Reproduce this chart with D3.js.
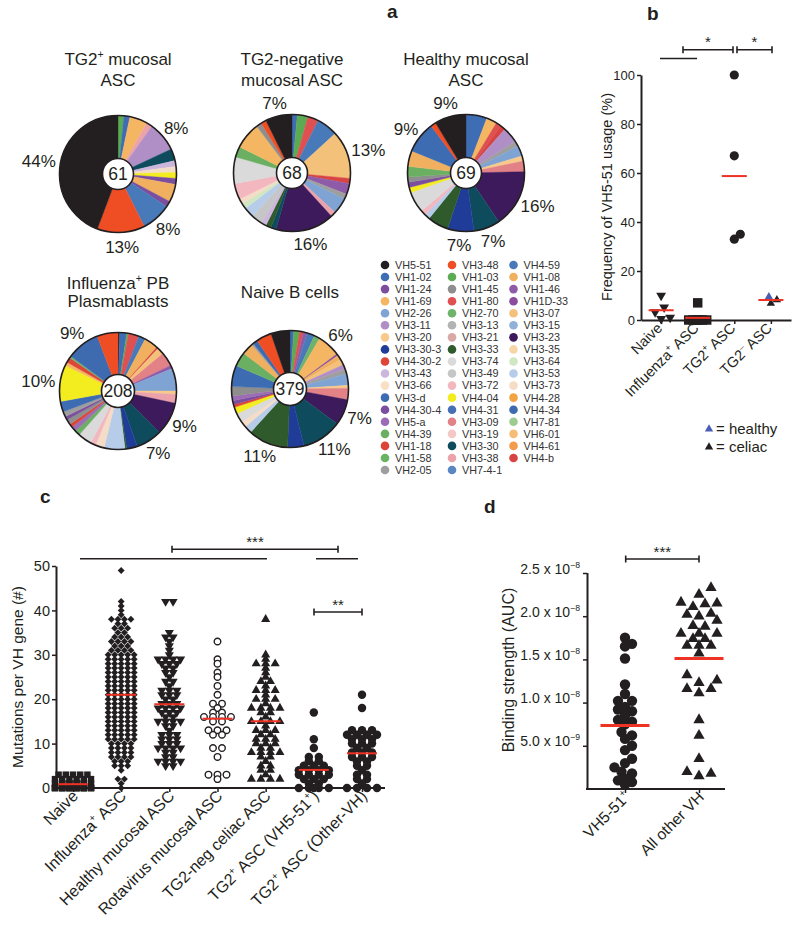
<!DOCTYPE html>
<html><head><meta charset="utf-8">
<script src="https://cdn.jsdelivr.net/npm/d3@7"></script>
<style>
body{margin:0;background:#fff}
text{font-family:"Liberation Sans",Arial,Helvetica,sans-serif;fill:#231f20}
</style>
</head><body>
<svg width="800" height="933"></svg>
<script>
// ---------------- DATA ----------------
const legendCol1 = ["VH5-51","VH1-02","VH1-24","VH1-69","VH2-26","VH3-11","VH3-20","VH3-30-3","VH4-30-2","VH3-43","VH3-66","VH3-d","VH4-30-4","VH5-a","VH4-39","VH1-18","VH1-58","VH2-05"];
const legendCol2 = ["VH3-48","VH1-03","VH1-45","VH1-80","VH2-70","VH3-13","VH3-21","VH3-33","VH3-74","VH3-49","VH3-72","VH4-04","VH4-31","VH3-09","VH3-19","VH3-30","VH3-38","VH7-4-1"];
const legendCol3 = ["VH4-59","VH1-08","VH1-46","VH1D-33","VH3-07","VH3-15","VH3-23","VH3-35","VH3-64","VH3-53","VH3-73","VH4-28","VH4-34","VH7-81","VH6-01","VH4-61","VH4-b"];

const pieTitles = [["TG2^+^ mucosal","ASC"],["TG2-negative","mucosal ASC"],["Healthy mucosal","ASC"],["Influenza^+^ PB","Plasmablasts"],["Naive B cells"]];

// slices clockwise from 12 o'clock: [gene, number of sequences]
const pie1 = [["VH1-03",1],["VH1-02",1],["VH1-69",3],["VH3-38",1],["VH3-11",5],["VH3-30",2],["VH3-43",1],["VH3-73",1],["VH4-04",1],["VH4-30-4",1],["VH1-08",3],["VH1-24",1],["VH4-59",5],["VH3-48",8],["VH5-51",27]];
const pie2 = [["VH1-02",1],["VH1-03",2],["VH1-80",2],["VH4-59",4],["VH3-07",9],["VH4-b",1],["VH1-46",2],["VH2-05",1],["VH2-26",3],["VH3-38",1],["VH3-23",11],["VH3-30",1],["VH3-33",1],["VH3-43",1],["VH3-49",2],["VH3-53",2],["VH3-64",1],["VH3-73",1],["VH3-72",3],["VH3-74",5],["VH4-39",2],["VH1-69",5],["VH1-45",1],["VH3-48",1],["VH5-51",5]];
const pie3 = [["VH1-02",4],["VH1-69",2],["VH1-80",1],["VH4-b",1],["VH3-11",3],["VH2-05",1],["VH2-26",2],["VH3-20",1],["VH3-09",2],["VH3-23",11],["VH3-30",5],["VH3-30-3",5],["VH3-33",4],["VH3-53",1],["VH3-72",1],["VH3-74",4],["VH4-04",1],["VH4-30-4",1],["VH1-45",1],["VH4-39",2],["VH1-08",3],["VH3-d",6],["VH3-48",1],["VH5-51",6]];
const pie4 = [["VH5-51",1],["VH1-02",4],["VH1-03",1],["VH1-80",6],["VH4-59",4],["VH1-08",8],["VH4-b",1],["VH3-07",4],["VH3-09",8],["VH1-46",2],["VH2-26",13],["VH3-20",2],["VH3-38",5],["VH3-23",19],["VH3-30",15],["VH3-30-3",6],["VH3-33",1],["VH3-53",12],["VH3-73",5],["VH3-72",3],["VH3-74",8],["VH4-39",3],["VH5-a",3],["VH1-18",2],["VH1-45",3],["VH4-30-4",2],["VH2-05",3],["VH3-d",6],["VH4-04",21],["VH1-69",2],["VH4-30-2",3],["VH2-70",1],["VH4-34",19],["VH3-48",12]];
const pie5 = [["VH1-02",4],["VH1-03",6],["VH1-80",4],["VH1-46",4],["VH4-59",8],["VH2-70",6],["VH1-69",24],["VH1D-33",2],["VH1-08",5],["VH3-07",6],["VH3-11",5],["VH2-05",5],["VH2-26",12],["VH3-20",3],["VH3-09",12],["VH3-23",27],["VH3-30",42],["VH3-30-3",17],["VH3-33",42],["VH3-53",8],["VH3-73",6],["VH3-74",10],["VH4-04",7],["VH4-30-2",3],["VH4-30-4",4],["VH5-a",5],["VH1-45",10],["VH3-d",22],["VH4-39",15],["VH1-08",12],["VH2-05",2],["VH4-34",5],["VH3-48",16],["VH5-51",20]];
// which slices carry a percentage label
const pieLabelIdx = [[4,12,13,14],[4,10,24],[9,10,11,21,23],[13,14,28,32],[6,15,16,18]];

// panel b
const bCategories = ["Naive","Influenza^+^ ASC","TG2^+^ ASC","TG2^–^ ASC"];
const bYTicks = [0,20,40,60,80,100];
const bNaive = [10, 3.2, 5.2, 0.5, 1];
const bInfluenza = [7, 0, 0, 0, 0, 0, 0, 0];
const bTG2pos = [100, 67, 35, 33];
const bTG2negHealthy = [9.5];
const bTG2negCeliac = [6.8, 8.2];

// panel c
const cCategories = ["Naive","Influenza^+^ ASC","Healthy mucosal ASC","Rotavirus mucosal ASC","TG2-neg celiac ASC","TG2^+^ ASC (VH5-51^+^)","TG2^+^ ASC (Other-VH)"];
const cYTicks = [0,10,20,30,40,50];
const cNaive = [3,3,3,3,3,2,2,2,2,2,2,1,1,1,1,1,1,1,1,1,1,0,0,0,0,0,0,0,0,0,0,0,0,0,0,0,0,0,0,0,0,0,0];
const cInfluenza = [49,42,41,40,39,38,38,38,38,37,37,36,36,36,35,35,34,34,34,33,33,33,33,32,32,32,31,31,31,31,
  30,30,30,30,30,29,29,29,29,29,28,28,28,28,28,27,27,27,27,27,26,26,26,26,26,25,25,25,25,25,
  24,24,24,24,24,23,23,23,23,23,22,22,22,22,22,21,21,21,21,21,20,20,20,20,20,19,19,19,19,19,
  18,18,18,18,18,17,17,17,17,17,16,16,16,16,16,15,15,15,15,15,14,14,14,14,14,13,13,13,13,13,
  12,12,12,12,12,11,11,11,11,11,10,10,10,10,9,9,9,9,8,8,8,8,7,7,7,7,6,6,6,5,5,5,4,2,2,1,0];
const cHealthy = [42,42,35,34,34,33,32,31,30,29,29,29,29,28,28,28,27,27,26,26,25,24,24,23,22,22,22,21,21,21,20,20,19,19,19,18,18,18,18,17,17,17,16,16,15,15,15,15,14,14,13,12,12,12,11,11,11,10,10,10,9,9,9,9,8,8,7,7,6,6,6,6,5,5];
const cRotavirus = [33,29,28,26,25,23,21,19,19,18,17,17,16,16,16,16,15,15,13,13,13,12,12,9,9,7,3,3,3,2];
const cTG2neg = [38,30,29,28,28,28,27,26,25,24,24,23,22,22,22,21,20,20,20,19,18,18,18,18,17,17,16,15,15,15,15,14,13,13,13,12,12,11,11,11,10,10,10,9,9,8,8,8,8,7,7,6,5,5,4,4,3,2,2,2,2];
const cVH551 = [17,11,9,7,7,6,6,5,5,5,4,4,4,4,3,3,3,3,2,2,2,1,1,0,0,0,0,0];
const cOtherVH = [21,18,13,13,13,12,12,12,12,11,11,11,10,10,10,9,9,8,8,8,7,7,7,6,6,5,5,4,3,3,2,2,1,0,0,0,0];

// panel d (AUC, units of 1e-8)
const dCategories = ["VH5-51^+^","All other VH"];
const dYTicks = [0.5,1.0,1.5,2.0,2.5];
const dVH551 = [1.75,1.68,1.65,1.51,1.21,1.1,1.02,1.02,0.95,0.92,0.9,0.85,0.8,0.78,0.75,0.66,0.62,0.58,0.5,0.45,0.35,0.3,0.25,0.2,0.18,0.12,0.1,0.08,0.05];
const dOtherVH = [2.33,2.25,2.16,2.15,2.14,2.11,2.03,2.02,2.0,1.95,1.89,1.88,1.8,1.8,1.8,1.74,1.74,1.66,1.66,1.66,1.57,1.32,1.26,1.23,1.16,1.16,1.11,0.8,0.62,0.35,0.2,0.18,0.15];

// ---------------- STYLE ----------------
const geneColors = {
 "VH5-51":"#231f20","VH1-02":"#3f6db4","VH1-24":"#7b4f9e","VH1-69":"#f4b663","VH2-26":"#7fa4d3","VH3-11":"#b08fc6",
 "VH3-20":"#f8c98c","VH3-30-3":"#1f3d98","VH4-30-2":"#de4437","VH3-43":"#cdb6dc","VH3-66":"#f9e0c4","VH3-d":"#3d6cb3",
 "VH4-30-4":"#7c4e9f","VH5-a":"#9c6db4","VH4-39":"#6bb062","VH1-18":"#db4437","VH1-58":"#6ab363","VH2-05":"#9e9e9e",
 "VH3-48":"#ef4d24","VH1-03":"#5bab52","VH1-45":"#8e8e8e","VH1-80":"#df5050","VH2-70":"#6db46a","VH3-13":"#b3b3b3",
 "VH3-21":"#d9a9a6","VH3-33":"#2e5a2c","VH3-74":"#dadada","VH3-49":"#c6c6c6","VH3-72":"#f3b7c0","VH4-04":"#f3ec1e",
 "VH4-31":"#4670b5","VH3-09":"#e38286","VH3-19":"#f5c8c8","VH3-30":"#0e4c5d","VH3-38":"#eba2ab","VH7-4-1":"#5b86c4",
 "VH4-59":"#4879b9","VH1-08":"#f1b05f","VH1-46":"#8e5ba8","VH1D-33":"#8b4e9d","VH3-07":"#f4c17a","VH3-15":"#8fb1da",
 "VH3-23":"#3d1a5b","VH3-35":"#f6d5a8","VH3-64":"#d0e7c4","VH3-53":"#b7cce8","VH3-73":"#f5dcc6","VH4-28":"#f2a445",
 "VH4-34":"#3e6ab0","VH7-81":"#9dcb91","VH6-01":"#f5bd78","VH4-61":"#f19b4b","VH4-b":"#d84444"
};
const INK = "#231f20", RED = "#ee3224";

const svg = d3.select("svg");

function rich(sel, str, fs) {
  sel.text(null);
  let shift = 0;
  str.split("^").forEach((p, i) => {
    if (!p) return;
    const target = i % 2 ? -0.42 * fs : 0;
    const t = sel.append("tspan").text(p).attr("dy", target - shift);
    if (i % 2) t.attr("font-size", fs * 0.62);
    shift = target;
  });
}

// ---------------- PANEL LABELS ----------------
[["a",387,18],["b",647,20],["c",40,503],["d",484,513]].forEach(([t,x,y]) =>
  svg.append("text").attr("x",x).attr("y",y).attr("font-size",19).attr("font-weight","bold").text(t));

// ---------------- PIES ----------------
const pieData = [pie1, pie2, pie3, pie4, pie5];
const pieLayout = [{cx:118,cy:174,t:[65,86]},{cx:292,cy:173,t:[65,86]},{cx:466,cy:173,t:[65,86]},{cx:118,cy:391,t:[289,307]},{cx:290,cy:389,t:[298]}];
const R = 58.5;
const pieGen = d3.pie().sort(null).value(d => d[1]);
const arcGen = d3.arc().innerRadius(0).outerRadius(R);
pieData.forEach((data, k) => {
  const L = pieLayout[k];
  pieTitles[k].forEach((line, li) => {
    const t = svg.append("text").attr("x", L.cx).attr("y", L.t[li]).attr("text-anchor","middle").attr("font-size",17);
    rich(t, line, 17);
  });
  const g = svg.append("g").attr("transform", `translate(${L.cx},${L.cy})`);
  const arcs = pieGen(data);
  g.selectAll("path").data(arcs).join("path").attr("d", arcGen)
    .attr("fill", d => geneColors[d.data[0]]).attr("stroke", d => geneColors[d.data[0]]).attr("stroke-width", 0.4);
  g.append("circle").attr("r", R).attr("fill","none").attr("stroke",INK).attr("stroke-width",1.6);
  const total = d3.sum(data, d => d[1]);
  g.append("circle").attr("r", total > 99 ? 16.5 : 15.5).attr("fill","#fff").attr("stroke",INK).attr("stroke-width",1.6);
  g.append("text").attr("text-anchor","middle").attr("dy","0.36em").attr("font-size",17.5).text(total);
  pieLabelIdx[k].forEach(i => {
    const a = arcs[i], th = (a.startAngle + a.endAngle) / 2;
    const s = Math.sin(th), c = Math.cos(th);
    const t = g.append("text").attr("font-size",17).attr("text-anchor","middle").attr("dy","0.36em")
      .text(Math.round(a.data[1] / total * 100) + "%");
    const w = t.node().getComputedTextLength();
    const Rl = R + 5;
    t.attr("x", Rl * s + s * w / 2).attr("y", -Rl * c - c * 9);
  });
});

// legend
const legendX = [385, 452, 513.5];
[legendCol1, legendCol2, legendCol3].forEach((col, ci) => col.forEach((gname, ri) => {
  const x = legendX[ci], y = 265 + ri * 12.06;
  svg.append("circle").attr("cx", x).attr("cy", y).attr("r", 4.3).attr("fill", geneColors[gname]);
  svg.append("text").attr("x", x + 10).attr("y", y).attr("dy","0.36em").attr("font-size",10.8).style("fill","#333").text(gname);
}));

// ---------------- HELPERS ----------------
function dodge(vals, y, rc, maxHalf, step) {
  const pts = vals.map((v, i) => ({ v, y: y(v), i }));
  const order = pts.slice().sort((a, b) => b.y - a.y);
  const placed = [];
  const cands = [0];
  for (let k = 1; k * step <= maxHalf + 1e-6; k++) cands.push(k * step, -k * step);
  for (const p of order) {
    let best = 0, bestScore = -Infinity;
    for (const c of cands) {
      let minD = Infinity;
      for (const q of placed) { const d = Math.hypot(q.dx - c, q.y - p.y); if (d < minD) minD = d; }
      if (minD >= 2 * rc) { best = c; break; }
      if (minD > bestScore) { bestScore = minD; best = c; }
    }
    p.dx = best; placed.push(p);
  }
  return pts.map(p => p.dx);
}
function rows(vals, sp, maxPer) {
  const out = new Array(vals.length);
  const groups = d3.group(vals.map((v, i) => ({ v, i })), d => d.v);
  for (const list of groups.values()) {
    const n = list.length;
    list.forEach((d, j) => {
      const k = Math.floor(j / maxPer), rowN = Math.min(maxPer, n - k * maxPer), pos = j % maxPer;
      out[d.i] = (pos - (rowN - 1) / 2) * sp;
    });
  }
  return out;
}
function drawMarks(vals, offs, x0, y, sym, size, rot, fill, stroke, sw) {
  svg.append("g").selectAll("path").data(vals).join("path")
    .attr("d", d3.symbol().type(sym).size(size))
    .attr("transform", (d, i) => `translate(${x0 + offs[i]},${y(d)}) rotate(${rot})`)
    .attr("fill", fill).attr("stroke", stroke || "none").attr("stroke-width", sw || 0);
}
function meanLine(vals, x0, y, half, w) {
  const m = d3.mean(vals);
  svg.append("line").attr("x1", x0 - half).attr("x2", x0 + half).attr("y1", y(m)).attr("y2", y(m))
    .attr("stroke", RED).attr("stroke-width", w);
}
function bracket(x1, x2, yy, stars, fs) {
  const g = svg.append("g").attr("stroke", INK).attr("stroke-width", 1.6);
  g.append("line").attr("x1", x1).attr("x2", x2).attr("y1", yy).attr("y2", yy);
  g.append("line").attr("x1", x1).attr("x2", x1).attr("y1", yy - 3.5).attr("y2", yy + 3.5);
  g.append("line").attr("x1", x2).attr("x2", x2).attr("y1", yy - 3.5).attr("y2", yy + 3.5);
  svg.append("text").attr("x", (x1 + x2) / 2).attr("y", yy - 2.5).attr("text-anchor","middle").attr("font-size", fs).text(stars);
}
function plainLine(x1, x2, yy) {
  svg.append("line").attr("x1", x1).attr("x2", x2).attr("y1", yy).attr("y2", yy).attr("stroke", INK).attr("stroke-width", 1.6);
}
function styleAxis(g, fs) {
  g.select(".domain").attr("stroke", INK).attr("stroke-width", 2);
  g.selectAll(".tick line").attr("stroke", INK).attr("stroke-width", 1.5);
  g.selectAll(".tick text").attr("font-size", fs).style("fill", INK);
  g.attr("font-family", null);
}
function xLabels(scale, cats, yTop, dx, fs) {
  cats.forEach(c => {
    const t = svg.append("text").attr("text-anchor","end").attr("font-size", fs).attr("dy","0.35em")
      .attr("transform", `translate(${scale(c) + dx},${yTop}) rotate(-45)`);
    rich(t, c, fs);
  });
}
function yTitle(x, y, str, fs) {
  svg.append("text").attr("transform", `translate(${x},${y}) rotate(-90)`).attr("text-anchor","middle")
    .attr("dy","0.35em").attr("font-size", fs).text(str);
}

// ---------------- PANEL B ----------------
const yb = d3.scaleLinear().domain([0, 100]).range([320, 75]);
const xb = d3.scalePoint().domain(bCategories).range([641, 791]).padding(0.55);
styleAxis(svg.append("g").attr("transform","translate(641,0)")
  .call(d3.axisLeft(yb).tickValues(bYTicks).tickSize(4).tickPadding(2).tickSizeOuter(0)), 13);
styleAxis(svg.append("g").attr("transform","translate(0,320)")
  .call(d3.axisBottom(xb).tickSize(4).tickSizeOuter(0).tickFormat("")), 13);
xLabels(xb, bCategories, 329, 2, 14.5);
yTitle(607, 197, "Frequency of VH5-51 usage (%)", 14.5);

drawMarks(bNaive, dodge(bNaive, yb, 4, 9, 3), xb(bCategories[0]), yb, d3.symbolTriangle, 42, 180, INK);
drawMarks(bInfluenza, dodge(bInfluenza, yb, 4.5, 9, 4.5), xb(bCategories[1]), yb, d3.symbolSquare, 90, 0, INK);
drawMarks(bTG2pos, dodge(bTG2pos, yb, 3.5, 9, 3), xb(bCategories[2]), yb, d3.symbolCircle, 66, 0, INK);
const bTG2neg = bTG2negCeliac.concat(bTG2negHealthy);
const offNeg = dodge(bTG2neg, yb, 3.4, 9, 2);
drawMarks(bTG2negCeliac, offNeg.slice(0, bTG2negCeliac.length), xb(bCategories[3]), yb, d3.symbolTriangle, 30, 0, INK);
drawMarks(bTG2negHealthy, offNeg.slice(bTG2negCeliac.length), xb(bCategories[3]), yb, d3.symbolTriangle, 30, 0, "#4a5fb3");
meanLine(bNaive, xb(bCategories[0]), yb, 12.5, 2);
meanLine(bInfluenza, xb(bCategories[1]), yb, 12.5, 2);
meanLine(bTG2pos, xb(bCategories[2]), yb, 12.5, 2);
meanLine(bTG2neg, xb(bCategories[3]), yb, 12.5, 2);
plainLine(660, 697, 58.5);
bracket(683, 733, 49.7, "*", 15);
bracket(737, 772, 49.7, "*", 15);
// healthy / celiac key
[["#4a5fb3","= healthy",429],[INK,"= celiac",447]].forEach(([col, lab, yy]) => {
  svg.append("path").attr("d", d3.symbol().type(d3.symbolTriangle).size(30)).attr("transform",`translate(709,${yy})`).attr("fill", col);
  svg.append("text").attr("x", 716).attr("y", yy).attr("dy","0.35em").attr("font-size",15).text(lab);
});

// ---------------- PANEL C ----------------
const yc = d3.scaleLinear().domain([0, 50]).range([788, 566]);
const xc = d3.scalePoint().domain(cCategories).range([73, 362]);
styleAxis(svg.append("g").attr("transform","translate(56,0)")
  .call(d3.axisLeft(yc).tickValues(cYTicks).tickSize(4).tickPadding(2).tickSizeOuter(0)), 14.5);
const gxc = svg.append("g").attr("transform","translate(0,788)")
  .call(d3.axisBottom(xc).tickSize(4).tickSizeOuter(0).tickFormat(""));
gxc.select(".domain").remove();
styleAxis(gxc, 14);
svg.append("line").attr("x1",55).attr("x2",385).attr("y1",788).attr("y2",788).attr("stroke",INK).attr("stroke-width",2);
xLabels(xc, cCategories, 797, 6, 16);
yTitle(18, 677, "Mutations per VH gene (#)", 15.5);

const cGroups = [
  [cNaive, d3.symbolSquare, 42, 0, INK, null, 0, 7.2, 6],
  [cInfluenza, d3.symbolSquare, 24, 45, INK, null, 0, 6.5, 5],
  [cHealthy, d3.symbolTriangle, 36, 180, INK, null, 0, 7.5, 4],
  [cRotavirus, d3.symbolCircle, 34, 0, "#fff", INK, 1.4, 9, 4],
  [cTG2neg, d3.symbolTriangle, 36, 0, INK, null, 0, 9.5, 4],
  [cVH551, d3.symbolCircle, 56, 0, INK, null, 0, 10, 4],
  [cOtherVH, d3.symbolCircle, 56, 0, INK, null, 0, 10, 4]
];
cGroups.forEach((gr, i) => {
  const [vals, sym, size, rot, fill, stroke, sw, sp, maxPer] = gr;
  drawMarks(vals, rows(vals, sp, maxPer), xc(cCategories[i]), yc, sym, size, rot, fill, stroke, sw);
});
cGroups.forEach((gr, i) => meanLine(gr[0], xc(cCategories[i]), yc, 15, 2));
plainLine(80, 267, 558.7);
plainLine(316, 358, 558.7);
bracket(172, 338, 549.3, "***", 15);
bracket(314, 362, 612, "**", 15);

// ---------------- PANEL D ----------------
const yd = d3.scaleLinear().domain([0, 2.5]).range([789, 573]);
const xd = d3.scalePoint().domain(dCategories).range([625, 699]);
const gyd = svg.append("g").attr("transform","translate(587,0)")
  .call(d3.axisLeft(yd).tickValues(dYTicks).tickSize(4).tickPadding(3).tickSizeOuter(0));
styleAxis(gyd, 14);
gyd.select(".domain").attr("d", "M0.5,789V573");
gyd.selectAll(".tick text").each(function(v) {
  const str = v >= 1 ? d3.format(".1f")(v) + " x 10^−8^" : d3.format(".1f")(v * 10) + " x 10^−9^";
  rich(d3.select(this), str, 14);
});
svg.append("line").attr("x1",586).attr("x2",725).attr("y1",789).attr("y2",789).attr("stroke",INK).attr("stroke-width",2);
const gxd = svg.append("g").attr("transform","translate(0,789)")
  .call(d3.axisBottom(xd).tickSize(4).tickSizeOuter(0).tickFormat(""));
gxd.select(".domain").remove();
styleAxis(gxd, 14);
xLabels(xd, dCategories, 798, 6, 15.5);
yTitle(508, 670, "Binding strength (AUC)", 16);

drawMarks(dVH551, dodge(dVH551, yd, 3.6, 11, 3.5), xd(dCategories[0]), yd, d3.symbolCircle, 85, 0, INK);
drawMarks(dOtherVH, dodge(dOtherVH, yd, 5, 19, 6), xd(dCategories[1]), yd, d3.symbolTriangle, 55, 0, INK);
meanLine(dVH551, xd(dCategories[0]), yd, 24.5, 3);
meanLine(dOtherVH, xd(dCategories[1]), yd, 24.5, 3);
bracket(625.7, 699, 559, "***", 15);
</script>
</body></html>
